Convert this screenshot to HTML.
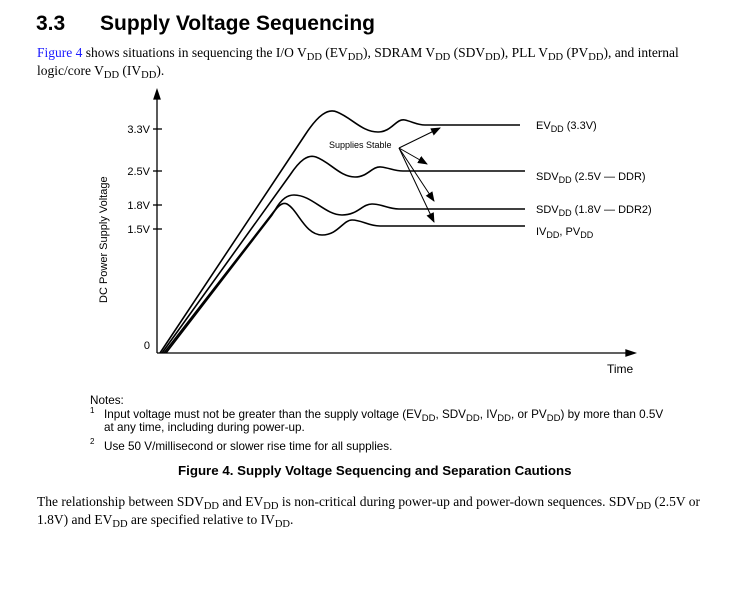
<!DOCTYPE html>
<html><head><style>
body{margin:0;width:751px;height:609px;background:#fff;position:relative;overflow:hidden}
.t{position:absolute;white-space:nowrap}
.serif{font-family:"Liberation Serif",serif;font-size:13.5px;color:#000}
.sans{font-family:"Liberation Sans",sans-serif;color:#000}
sub{font-size:10.5px;vertical-align:-3px;line-height:0}
</style></head><body>
<div class="t sans" style="left:36px;top:12px;font-size:21px;font-weight:bold">3.3</div>
<div class="t sans" style="left:100px;top:12px;font-size:21px;font-weight:bold">Supply Voltage Sequencing</div>
<div class="t serif" style="left:37px;top:45px"><span style="color:#1a1aff">Figure 4</span> shows situations in sequencing the I/O V<sub>DD</sub> (EV<sub>DD</sub>), SDRAM V<sub>DD</sub> (SDV<sub>DD</sub>), PLL V<sub>DD</sub> (PV<sub>DD</sub>), and internal</div>
<div class="t serif" style="left:37px;top:63px">logic/core V<sub>DD</sub> (IV<sub>DD</sub>).</div>

<svg width="751" height="609" style="position:absolute;left:0;top:0" font-family="Liberation Sans, sans-serif">
<defs><marker id="a" markerWidth="10" markerHeight="8" refX="9" refY="4" orient="auto" markerUnits="userSpaceOnUse"><path d="M0,0 L10,4 L0,8 z"/></marker></defs>
<g stroke="#000" stroke-width="1.3" fill="none">
<line x1="157" y1="353" x2="157" y2="92"/>
<path d="M157,90 l-3,9 l6,0z" fill="#000"/>
<line x1="157" y1="353" x2="632" y2="353"/>
<path d="M635,353 l-9,-3 l0,6z" fill="#000"/>
<line x1="153" y1="129" x2="162" y2="129"/>
<line x1="153" y1="171" x2="162" y2="171"/>
<line x1="153" y1="205" x2="162" y2="205"/>
<line x1="153" y1="229" x2="162" y2="229"/>
</g>
<g stroke="#000" stroke-width="1.6" fill="none">
<path d="M160,353 L305,135 C318,115 328,108 337,112 C352,118 362,132 378,132 C392,132 396,118 405,120 C413,122 418,125 425,125 L520,125"/>
<path d="M162,353 L290,175 C300,160 308,154 316,157 C330,162 340,177 355,177 C368,177 372,166 381,167 C390,168 394,171 403,171 L525,171"/>
<path d="M164,353 L275,210 C282,198 288,195 294,195 C312,195 325,215 342,215 C358,215 362,204 372,204 C382,204 388,209 399,209 L525,209"/>
<path d="M166,353 L272,215 C278,205 283,202 287,204 C298,210 305,235 322,235 C338,235 343,220 352,220 C362,220 368,226 380,226 L525,226"/>
</g>
<g stroke="#000" stroke-width="1" fill="none">
<line x1="399" y1="148" x2="440" y2="128" marker-end="url(#a)"/>
<line x1="399" y1="148" x2="427" y2="164" marker-end="url(#a)"/>
<line x1="399" y1="148" x2="434" y2="201" marker-end="url(#a)"/>
<line x1="399" y1="148" x2="434" y2="222" marker-end="url(#a)"/>
</g>
<text x="329" y="148" font-size="9">Supplies Stable</text>
<g font-size="11" text-anchor="end">
<text x="150" y="133">3.3V</text><text x="150" y="175">2.5V</text>
<text x="150" y="209">1.8V</text><text x="150" y="233">1.5V</text>
<text x="150" y="349">0</text>
</g>
<text x="607" y="373" font-size="12">Time</text>
<text transform="translate(107,303) rotate(-90)" font-size="11">DC Power Supply Voltage</text>
<g font-size="11">
<text x="536" y="129">EV<tspan font-size="9" dy="3">DD</tspan><tspan dy="-3"> (3.3V)</tspan></text>
<text x="536" y="180">SDV<tspan font-size="9" dy="3">DD</tspan><tspan dy="-3"> (2.5V — DDR)</tspan></text>
<text x="536" y="213">SDV<tspan font-size="9" dy="3">DD</tspan><tspan dy="-3"> (1.8V — DDR2)</tspan></text>
<text x="536" y="235">IV<tspan font-size="9" dy="3">DD</tspan><tspan dy="-3">, PV</tspan><tspan font-size="9" dy="3">DD</tspan></text>
</g>
<g font-size="11.7">
<text x="90" y="404">Notes:</text>
<text x="90" y="413" font-size="8">1</text>
<text x="104" y="418">Input voltage must not be greater than the supply voltage (EV<tspan font-size="9.5" dy="3">DD</tspan><tspan dy="-3">, SDV</tspan><tspan font-size="9.5" dy="3">DD</tspan><tspan dy="-3">, IV</tspan><tspan font-size="9.5" dy="3">DD</tspan><tspan dy="-3">, or PV</tspan><tspan font-size="9.5" dy="3">DD</tspan><tspan dy="-3">) by more than 0.5V</tspan></text>
<text x="104" y="431">at any time, including during power-up.</text>
<text x="90" y="444" font-size="8">2</text>
<text x="104" y="450">Use 50 V/millisecond or slower rise time for all supplies.</text>
</g>
<text x="178" y="475" font-size="13.3" font-weight="bold">Figure 4. Supply Voltage Sequencing and Separation Cautions</text>
</svg>
<div class="t serif" style="left:37px;top:494px">The relationship between SDV<sub>DD</sub> and EV<sub>DD</sub> is non-critical during power-up and power-down sequences. SDV<sub>DD</sub> (2.5V or</div>
<div class="t serif" style="left:37px;top:512px">1.8V) and EV<sub>DD</sub> are specified relative to IV<sub>DD</sub>.</div>
</body></html>
